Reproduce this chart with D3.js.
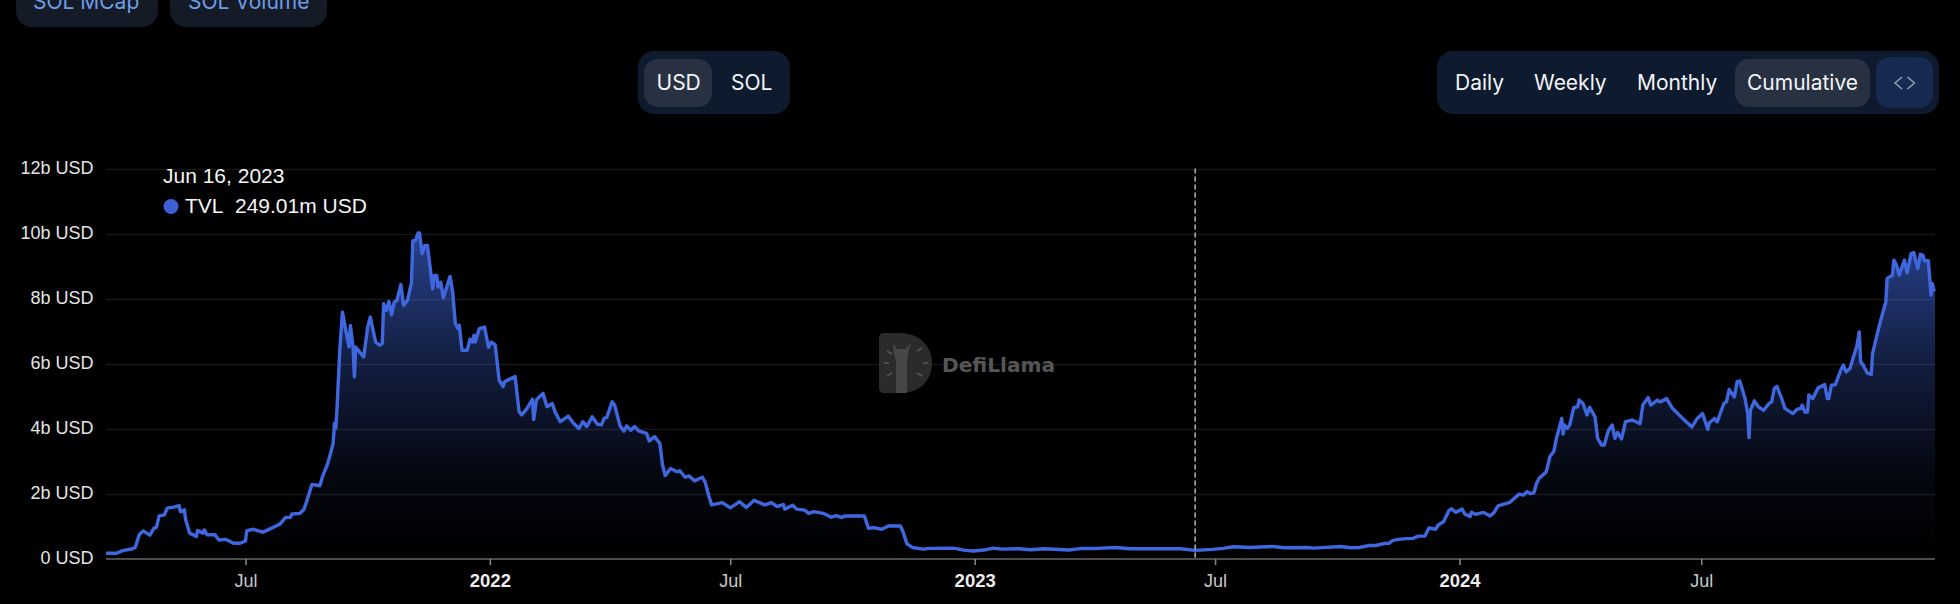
<!DOCTYPE html>
<html><head><meta charset="utf-8">
<script src="https://cdn.jsdelivr.net/npm/d3@7"></script>
<style>html,body{margin:0;padding:0;background:#000;overflow:hidden}svg{display:block}</style>
</head><body><svg id="c" width="1960" height="604"></svg>
<script>
const startDate = "2021-03-18";
const endDay = 1377;
const tvlDays = [0,8,12,20,22,25,28,33,36,38,40,44,46,51,55,56,59,60,63,68,69,73,74,76,82,85,90,96,101,105,106,111,118,122,131,135,139,140,146,149,151,155,161,163,167,171,172,173,174,176,178,181,183,184,186,187,188,191,194,197,199,203,206,208,209,211,213,215,217,219,222,224,227,230,231,233,235,236,238,240,242,246,247,249,250,252,254,259,261,263,265,266,268,272,274,276,277,278,281,285,288,290,293,296,299,300,308,311,313,317,321,322,324,329,332,336,338,342,348,352,356,359,362,366,370,373,375,377,381,383,387,390,392,395,398,401,407,409,413,417,419,421,425,430,432,436,439,443,449,451,454,456,464,470,477,482,488,496,501,505,510,511,517,520,526,529,533,540,546,550,554,556,571,574,578,584,589,598,600,603,607,615,620,638,647,653,661,668,674,687,696,706,725,735,746,760,771,796,809,820,833,841,849,861,879,887,904,909,930,937,944,951,956,962,966,969,973,979,984,988,993,996,1001,1003,1007,1011,1013,1016,1021,1023,1027,1028,1031,1037,1042,1045,1048,1053,1057,1061,1064,1067,1070,1072,1075,1077,1079,1084,1085,1087,1090,1092,1094,1096,1097,1098,1100,1102,1105,1108,1109,1112,1115,1117,1121,1123,1126,1128,1131,1134,1136,1138,1141,1144,1149,1155,1157,1161,1163,1168,1170,1175,1179,1187,1194,1198,1202,1206,1207,1211,1213,1218,1220,1222,1226,1228,1230,1234,1236,1237,1238,1241,1244,1248,1252,1254,1256,1258,1262,1264,1270,1273,1276,1277,1279,1281,1282,1285,1289,1294,1296,1297,1299,1302,1306,1308,1310,1313,1316,1318,1320,1321,1323,1326,1329,1330,1333,1336,1340,1341,1345,1346,1348,1350,1354,1356,1359,1361,1364,1366,1368,1369,1372,1374,1375,1376,1377];
const tvlValues = [0.16,0.16,0.235,0.3,0.34,0.73,0.85,0.72,0.93,0.96,1.31,1.34,1.55,1.58,1.63,1.44,1.5,1.19,0.78,0.68,0.86,0.78,0.88,0.73,0.73,0.57,0.59,0.47,0.47,0.54,0.86,0.9,0.81,0.88,1.06,1.26,1.27,1.37,1.39,1.51,1.75,2.28,2.24,2.52,2.93,3.54,4.16,4.0,4.67,6.41,7.58,6.92,6.51,7.17,6.51,5.59,6.51,6.35,6.2,7.12,7.43,6.66,6.56,6.62,7.84,7.63,7.91,7.5,7.89,7.94,8.43,7.79,7.94,8.5,9.78,9.78,10.02,10.02,9.38,9.63,9.63,8.3,8.71,8.71,8.35,8.5,8.02,8.68,8.2,7.23,7.07,7.18,6.41,6.41,6.75,6.66,6.87,6.66,7.07,7.12,6.5,6.66,6.57,5.49,5.29,5.44,5.6,4.52,4.42,4.62,4.9,4.28,4.88,5.08,4.67,4.77,4.52,4.21,4.38,4.16,4.0,4.21,4.06,4.36,4.13,4.11,4.31,4.34,4.82,4.72,4.08,3.92,4.08,3.95,4.06,3.93,3.85,3.62,3.75,3.54,2.88,2.55,2.77,2.67,2.7,2.5,2.54,2.39,2.5,2.36,1.9,1.65,1.72,1.56,1.75,1.57,1.79,1.65,1.72,1.6,1.66,1.52,1.64,1.52,1.49,1.39,1.44,1.39,1.27,1.32,1.26,1.31,1.31,0.93,0.95,0.9,1.0,1.0,0.83,0.45,0.34,0.29,0.31,0.32,0.25,0.23,0.26,0.32,0.29,0.3,0.27,0.3,0.26,0.31,0.31,0.34,0.3,0.3,0.3,0.249,0.28,0.31,0.36,0.34,0.37,0.33,0.34,0.32,0.37,0.33,0.34,0.4,0.4,0.46,0.47,0.56,0.59,0.61,0.62,0.69,0.69,0.94,0.9,1.03,1.13,1.47,1.53,1.42,1.52,1.37,1.29,1.42,1.36,1.42,1.31,1.41,1.62,1.68,1.73,1.88,1.98,1.95,2.06,2.0,2.02,2.31,2.47,2.65,2.77,3.13,3.29,3.7,4.0,4.31,3.83,4.11,4.0,4.11,4.64,4.67,4.88,4.77,4.42,4.65,4.36,3.7,3.49,3.49,3.93,4.11,3.7,3.88,3.68,4.21,4.26,4.15,4.72,4.95,4.72,4.87,4.82,4.92,4.64,4.31,4.05,4.31,4.46,3.97,4.17,4.31,4.2,4.77,4.82,5.2,4.97,5.44,5.46,4.92,4.46,3.72,4.56,4.85,4.67,4.56,4.77,4.82,5.23,5.3,4.87,4.62,4.46,4.59,4.62,4.72,4.51,4.51,5.03,4.92,5.25,5.35,4.92,4.92,5.33,5.35,5.79,5.95,5.74,5.85,6.26,6.51,6.97,6.05,5.95,5.71,5.66,6.31,6.82,7.31,7.9,8.62,8.72,9.18,9.03,8.72,9.18,8.79,9.38,9.41,8.92,9.36,9.33,9.16,9.16,8.1,8.46,8.26,8.3];
const yTicks = [0,2,4,6,8,10,12];
const yTickLabels = ["0 USD","2b USD","4b USD","6b USD","8b USD","10b USD","12b USD"];
const xTickDates = ["2021-07-01","2022-01-01","2022-07-01","2023-01-01","2023-07-01","2024-01-01","2024-07-01"];
const xTickLabels = ["Jul","2022","Jul","2023","Jul","2024","Jul"];
const hoverDate = "2023-06-16";
const hoverDateLabel = "Jun 16, 2023";
const seriesName = "TVL";
const hoverValueLabel = "249.01m USD";
const topTabs = ["SOL MCap","SOL Volume"];
const denomButtons = ["USD","SOL"];
const periodButtons = ["Daily","Weekly","Monthly","Cumulative"];

const parse = d3.utcParse("%Y-%m-%d");
const t0 = parse(startDate);
const rows = tvlDays.map((d,i)=>({date:d3.utcDay.offset(t0,d),v:tvlValues[i]}));
const svg = d3.select("#c");
const L=106,R=1935,T=168.5,B=558.5;
const x = d3.scaleUtc().domain([t0,d3.utcDay.offset(t0,endDay)]).range([L,R]);
const y = d3.scaleLinear().domain([0,12]).range([B,T]);
const UI = "Inter, sans-serif", AX = "'Liberation Sans', Arial, sans-serif";

const defs = svg.append("defs");
const g = defs.append("linearGradient").attr("id","fill").attr("gradientUnits","userSpaceOnUse")
  .attr("x1",0).attr("x2",0).attr("y1",y(d3.max(tvlValues))).attr("y2",B);
g.append("stop").attr("offset",0).attr("stop-color","#4169e1").attr("stop-opacity",0.62);
g.append("stop").attr("offset",0.4).attr("stop-color","#4169e1").attr("stop-opacity",0.28);
g.append("stop").attr("offset",0.75).attr("stop-color","#4169e1").attr("stop-opacity",0.07);
g.append("stop").attr("offset",1).attr("stop-color","#4169e1").attr("stop-opacity",0);

function rrect(px,py,w,h,r,fill,par){return (par||svg).append("rect").attr("x",px).attr("y",py).attr("width",w).attr("height",h).attr("rx",r).attr("fill",fill);}
function txt(s,px,py,size,fill,font,anchor,weight){return svg.append("text").text(s).attr("x",px).attr("y",py).attr("font-size",size).attr("fill",fill).attr("font-family",font||UI).attr("text-anchor",anchor||"start").attr("font-weight",weight||400);}
rrect(16,-30,142,57,16,"#141b26"); rrect(170,-30,157,57,16,"#141b26");
txt(topTabs[0],33,9,21,"#6f9de8"); txt(topTabs[1],188,9,21,"#6f9de8");

rrect(638,51,152,63,16,"#0e1a2e"); rrect(644,59,68,48,14,"#283141");
txt(denomButtons[0],656.5,90,21,"#f2f4f7"); txt(denomButtons[1],731,90,21,"#f2f4f7");

rrect(1437,51,502,63,16,"#0e1a2e"); rrect(1735,59,135,48,14,"#283141"); rrect(1876,57,57,51,14,"#172a52");
[1455,1534,1637,1747].forEach((px,i)=>txt(periodButtons[i],px,90,21,"#f2f4f7"));
svg.append("path").attr("d","M1902 77l-7 6 7 6M1907.5 77l7 6-7 6").attr("fill","none").attr("stroke","#9aa4b8").attr("stroke-width",1.4);

svg.append("g").selectAll("line").data(yTicks.slice(1)).join("line")
  .attr("x1",L).attr("x2",R).attr("y1",d=>Math.round(y(d))+.5).attr("y2",d=>Math.round(y(d))+.5)
  .attr("stroke","#171717").attr("stroke-width",1.5);

const wm = svg.append("g");
wm.append("path").attr("d","M884 333H900C920 333 932 347 932 363C932 380 920 393 900 393H884Q879 393 879 388V338Q879 333 884 333Z").attr("fill","#2b2b2b");
wm.append("path").attr("d","M893 343L897 349H905L911 343L908 354L907 360V393H896V360L894 354Z").attr("fill","#474747");
wm.append("g").attr("stroke","#565656").attr("stroke-width",1.6).selectAll("line")
  .data([[887,351,892,354],[884,363,889,363],[887,376,892,373],[917,351,922,348],[923,363,928,363],[917,373,922,376]]).join("line")
  .attr("x1",d=>d[0]).attr("y1",d=>d[1]).attr("x2",d=>d[2]).attr("y2",d=>d[3]);
wm.append("text").text("DefiLlama").attr("x",942).attr("y",372).attr("font-size",20).attr("font-weight",700)
  .attr("font-family","'DejaVu Sans', sans-serif").attr("fill","#565656").attr("textLength",113).attr("lengthAdjust","spacingAndGlyphs");

svg.append("path").datum(rows).attr("fill","url(#fill)")
  .attr("d",d3.area().x(d=>x(d.date)).y0(B).y1(d=>y(d.v)));

const xAxis = d3.axisBottom(x).tickValues(xTickDates.map(parse)).tickSize(6).tickPadding(9)
  .tickFormat((d,i)=>xTickLabels[i]);
const ax = svg.append("g").attr("transform",`translate(0,${B+.5})`).call(xAxis);
ax.select(".domain").attr("stroke","#666").attr("stroke-width",1.5).attr("d",`M${L},0H${R}`);
ax.selectAll(".tick line").attr("stroke","#8a8a8a").attr("stroke-width",1.5);
ax.selectAll(".tick text").attr("font-family",AX)
  .attr("font-size",(d,i)=>/^\d/.test(xTickLabels[i])?18.5:18)
  .attr("font-weight",(d,i)=>/^\d/.test(xTickLabels[i])?700:400)
  .attr("fill",(d,i)=>/^\d/.test(xTickLabels[i])?"#eee":"#c8c8c8");

const yAxis = d3.axisLeft(y).tickValues(yTicks).tickSize(0).tickPadding(0).tickFormat((d,i)=>yTickLabels[i]);
const ay = svg.append("g").attr("transform","translate(93.5,0)").call(yAxis);
ay.select(".domain").remove();
ay.selectAll(".tick text").attr("font-family",AX).attr("font-size",18).attr("fill","#e4e4e4").attr("dy","0.25em");

svg.append("path").datum(rows).attr("fill","none").attr("stroke","#3f68e0").attr("stroke-width",3.4).attr("stroke-linejoin","round")
  .attr("d",d3.line().x(d=>x(d.date)).y(d=>y(d.v)));

svg.append("line").attr("x1",x(parse(hoverDate))).attr("x2",x(parse(hoverDate))).attr("y1",T).attr("y2",B)
  .attr("stroke","#b5b5b5").attr("stroke-width",1.5).attr("stroke-dasharray","5 3");

txt(hoverDateLabel,163,183,21,"#f5f5f5",AX);
svg.append("circle").attr("cx",171).attr("cy",206.5).attr("r",7.5).attr("fill","#3f5fd6");
txt(seriesName,185,213,21,"#f5f5f5",AX);
txt(hoverValueLabel,235,213,21,"#f5f5f5",AX);
</script></body></html>
